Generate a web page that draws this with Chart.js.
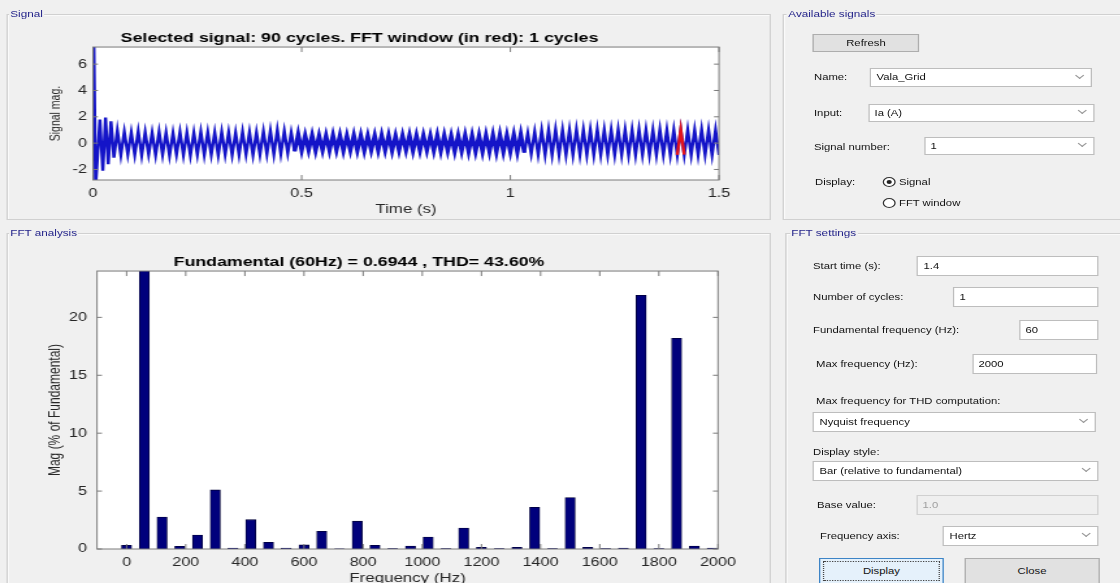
<!DOCTYPE html>
<html>
<head>
<meta charset="utf-8">
<title>FFT analysis</title>
<script src="https://cdn.jsdelivr.net/npm/chart.js@4.4.1/dist/chart.umd.min.js"></script>
<style>
  html, body { margin:0; padding:0; width:1120px; height:583px; overflow:hidden; background:#f0f0f0; }
  #stage { position:absolute; left:0; top:0; height:583px; transform-origin:0 0;
           font-family: Arial, "Liberation Sans", sans-serif; font-size:8.7px; color:#111; }
  #stage div, #stage canvas { position:absolute; box-sizing:border-box; }
  .panel { border:1px solid #d0d0d0; box-shadow: inset 1px 1px 0 #fafafa; }
  .ptitle { background:#f0f0f0; color:#24248a; padding:0 1px; font-size:9px; line-height:12px; white-space:nowrap; }
  .lbl { white-space:nowrap; line-height:14px; }
  .box { background:#fff; border:1px solid #bdbdbd; }
  .box.off { background:#efefef; border-color:#d0d0d0; color:#a0a0a0; }
  .box .t { left:4px; top:0; white-space:nowrap; }
  .box .arr { right:6px; width:5px; height:5px; border-right:1px solid #9a9a9a; border-bottom:1px solid #9a9a9a; transform:rotate(45deg); }
  .btn { background:#e1e1e1; border:1px solid #adadad; text-align:center; }
  .btn.focus { background:#e5f1fb; border:1px solid #3d84c6; }
  .btn .dots { left:2px; top:2px; right:2px; bottom:2px; border:1px dotted #444; }
  .radio { width:10px; height:10px; border:1px solid #333; border-radius:50%; background:#fff; }
  .radio .dot { left:2px; top:2px; width:4px; height:4px; border-radius:50%; background:#222; }
</style>
</head>
<body>
<div id="stage"></div>
<script>
// ---- chart data ----
const fftFreq = [0, 60, 120, 180, 240, 300, 360, 420, 480, 540, 600, 660, 720, 780, 840, 900, 960,
                 1020, 1080, 1140, 1200, 1260, 1320, 1380, 1440, 1500, 1560, 1620, 1680, 1740, 1800, 1860, 1920, 1980];
const fftMag  = [0.32, 100, 2.76, 0.23, 1.2, 5.1, 0.07, 2.53, 0.57, 0.07, 0.35, 1.52, 0.02, 2.4, 0.32, 0.03, 0.25,
                 1.03, 0.03, 1.8, 0.15, 0.03, 0.15, 3.6, 0.03, 4.45, 0.15, 0.03, 0.08, 21.9, 0.03, 18.2, 0.25, 0.08];
const fftXTicks = [0, 200, 400, 600, 800, 1000, 1200, 1400, 1600, 1800, 2000];
const fftYTicks = [0, 5, 10, 15, 20];

// start-up transient, then one trough / one crest per 60 Hz cycle
const transT = [0, 0.002, 0.006, 0.0165, 0.0235, 0.030, 0.0365, 0.043];
const transV = [0, 7.8, -3.4, 1.8, -2.1, 1.95, -1.6, 1.65];
const firstCycle = 3;
const cycleLow = [
  -1.1, -0.9, -0.85, -0.88, -0.92, -0.86, -0.9, -0.88, -0.94, -0.85, -0.9, -0.92, -0.86,
  -0.9, -0.88, -0.92, -0.86, -0.9, -0.88, -0.85, -0.9, -0.86, -0.82, -0.85, -0.8, -0.75,
  -0.62, -0.58, -0.55, -0.6, -0.56, -0.58, -0.55, -0.6, -0.56, -0.58, -0.6, -0.55, -0.58,
  -0.56, -0.6, -0.58, -0.55, -0.6, -0.58, -0.56, -0.6, -0.62, -0.6, -0.64, -0.62, -0.66,
  -0.65, -0.68, -0.66, -0.7, -0.68, -0.66, -0.7,
  -0.72, -0.8, -0.85, -0.88, -0.9, -0.88, -0.9, -0.9, -0.88, -0.9, -0.9, -0.88, -0.9, -0.9,
  -0.88, -0.9, -0.9, -0.88, -0.9, -0.9, -0.88, -0.9, -0.9, -0.88, -0.9, -0.9, -0.88, -0.9];
const cycleHigh = [
  0.95, 0.85, 0.8, 0.88, 0.82, 0.78, 0.85, 0.8, 0.76, 0.84, 0.8, 0.78, 0.86,
  0.82, 0.8, 0.84, 0.8, 0.78, 0.85, 0.82, 0.8, 0.88, 0.92, 1.0, 0.9, 0.8,
  0.7, 0.6, 0.62, 0.58, 0.6, 0.62, 0.6, 0.58, 0.62, 0.6, 0.58, 0.6, 0.62,
  0.6, 0.58, 0.6, 0.62, 0.6, 0.6, 0.58, 0.62, 0.6, 0.58, 0.6, 0.62, 0.6,
  0.6, 0.62, 0.64, 0.66, 0.62, 0.65, 0.7,
  0.75, 0.85, 0.95, 1.0, 1.02, 1.0, 1.0, 1.02, 1.0, 1.0, 1.02, 1.0, 1.0, 1.02,
  1.0, 1.0, 1.02, 1.0, 1.0, 1.02, 1.0, 1.0, 1.02, 1.0, 1.0, 1.02, 1.0, 1.0];
const endValue = -0.9;
const sigXTicks = [0, 0.5, 1, 1.5];
const sigYTicks = [-2, 0, 2, 4, 6];

const f0 = 60, fftStart = 1.4, fftCycles = 1;

// ---- page is a horizontally stretched MATLAB window ----
const S = 1.3;
const stage = document.getElementById('stage');
stage.style.width = (1120 / S) + 'px';
stage.style.transform = 'scaleX(' + S + ')';

function put(cls, x, y, w, h, text, parent) {
  const d = document.createElement('div');
  d.className = cls;
  d.style.left = (x / S) + 'px';
  d.style.top = y + 'px';
  if (w != null) d.style.width = (w / S) + 'px';
  if (h != null) d.style.height = h + 'px';
  if (text != null) d.textContent = text;
  (parent || stage).appendChild(d);
  return d;
}
function label(x, y, text) { return put('lbl', x, y - 7, null, 14, text); }
function field(x, y, w, h, text, combo, off) {
  const b = put('box' + (off ? ' off' : ''), x, y, w, h);
  const t = document.createElement('div');
  t.className = 't'; t.textContent = text; t.style.lineHeight = (h - 2) + 'px';
  b.appendChild(t);
  if (combo) {
    const a = document.createElement('div');
    a.className = 'arr'; a.style.top = (h / 2 - 6) + 'px';
    b.appendChild(a);
  }
  return b;
}
function button(x, y, w, h, text, focus) {
  const b = put('btn' + (focus ? ' focus' : ''), x, y, w, h);
  b.style.lineHeight = (h - 2) + 'px';
  b.textContent = text;
  if (focus) { const d = document.createElement('div'); d.className = 'dots'; b.appendChild(d); }
  return b;
}
function radio(x, y, on) {
  const r = put('radio', x, y, null, null);
  if (on) { const d = document.createElement('div'); d.className = 'dot'; r.appendChild(d); }
}
function panel(x, y, w, h, title, tx) {
  put('panel', x, y, w, h);
  put('ptitle', tx, y - 6, null, 12, title);
}

panel(6, 14, 765, 206, 'Signal', 9);
panel(6, 233, 765, 400, 'FFT analysis', 9);
panel(783, 14, 345, 206, 'Available signals', 787);
panel(785, 233, 345, 400, 'FFT settings', 790);

button(813, 34, 106, 18, 'Refresh');
label(814, 77, 'Name:');            field(870, 68, 222, 19, 'Vala_Grid', true);
label(814, 113, 'Input:');          field(868, 104, 226, 18, 'Ia (A)', true);
label(814, 147, 'Signal number:');  field(924, 137, 170, 18, '1', true);
label(815, 182, 'Display:');
radio(883, 177, true);  label(899, 182, 'Signal');
radio(883, 198, false); label(899, 203, 'FFT window');

label(813, 266, 'Start time (s):');              field(917, 256, 182, 20, '1.4');
label(813, 297, 'Number of cycles:');            field(953, 287, 146, 20, '1');
label(813, 330, 'Fundamental frequency (Hz):');  field(1019, 320, 79, 20, '60');
label(816, 364, 'Max frequency (Hz):');          field(972, 354, 125, 20, '2000');
label(816, 401, 'Max frequency for THD computation:');
field(813, 412, 283, 20, 'Nyquist frequency', true);
label(813, 452, 'Display style:');
field(813, 461, 286, 20, 'Bar (relative to fundamental)', true);
label(817, 505, 'Base value:');                  field(916, 495, 183, 20, '1.0', false, true);
label(820, 536, 'Frequency axis:');              field(943, 526, 156, 20, 'Hertz', true);
button(819, 558, 125, 26, 'Display', true);
button(964, 558, 136, 26, 'Close');

// ---- charts ----
Chart.defaults.font.family = 'Arial, "Liberation Sans", sans-serif';
Chart.defaults.color = '#262626';

// MATLAB style axes: white plot area, box with inward ticks on all four sides
const axisBox = {
  id: 'axisBox',
  beforeDraw(chart) {
    const {ctx, chartArea: a} = chart;
    ctx.save();
    ctx.fillStyle = '#ffffff';
    ctx.fillRect(a.left, a.top, a.right - a.left, a.bottom - a.top);
    ctx.restore();
  },
  afterDatasetsDraw(chart) {
    const {ctx, chartArea: a, scales: {x, y}} = chart;
    ctx.save();
    ctx.strokeStyle = '#7a7a7a';
    ctx.lineWidth = 1;
    ctx.strokeRect(a.left, a.top, a.width, a.height);
    ctx.beginPath();
    x.ticks.forEach(t => {
      const px = x.getPixelForValue(t.value);
      ctx.moveTo(px, a.bottom); ctx.lineTo(px, a.bottom - 5);
      ctx.moveTo(px, a.top); ctx.lineTo(px, a.top + 5);
    });
    y.ticks.forEach(t => {
      const py = y.getPixelForValue(t.value);
      ctx.moveTo(a.left, py); ctx.lineTo(a.left + 5 / S, py);
      ctx.moveTo(a.right, py); ctx.lineTo(a.right - 5 / S, py);
    });
    ctx.stroke();
    ctx.restore();
  }
};

function makeCanvas(x, y, w, h) {
  const c = document.createElement('canvas');
  c.width = w; c.height = h;
  c.style.left = (x / S) + 'px';
  c.style.top = y + 'px';
  stage.appendChild(c);
  return c;
}
const titleFont = {size: 13.7, weight: 'bold', lineHeight: 1.2};
const tickFont = {size: 12.5};
const plain = v => String(v);

// signal trace
const signalPts = transT.map((t, i) => ({x: t, y: transV[i]}));
cycleLow.forEach((lo, i) => {
  const k = firstCycle + i;
  signalPts.push({x: k / f0, y: lo});
  signalPts.push({x: (k + 0.5) / f0, y: cycleHigh[i]});
});
signalPts.push({x: 1.5, y: endValue});
const winEnd = fftStart + fftCycles / f0;
const windowPts = signalPts.filter(p => p.x >= fftStart - 1e-6 && p.x <= winEnd + 1e-6);

const sigCanvas = makeCanvas(0, 22, 592, 200);
new Chart(sigCanvas, {
  type: 'line',
  data: {
    datasets: [
      {data: windowPts, borderColor: '#e3141c', borderWidth: 2.4, pointRadius: 0, order: 0},
      {data: signalPts, borderColor: '#1414c8', borderWidth: 2.4, pointRadius: 0, order: 1,
       segment: {borderWidth: c => (c.p0.parsed.x > 0.48 && c.p1.parsed.x < 1.04) ? 3.2 : 2.4}}
    ]
  },
  options: {
    responsive: false, animation: false, events: [],
    layout: {padding: {left: 0, right: 592 - 719 / S, top: 0, bottom: 0}},
    plugins: {
      legend: {display: false}, tooltip: {enabled: false},
      title: {display: true, text: 'Selected signal: 90 cycles. FFT window (in red): 1 cycles',
              color: '#000', font: titleFont, padding: {top: 7.8, bottom: 0.8}}
    },
    scales: {
      x: {type: 'linear', min: 0, max: 1.5,
          afterBuildTicks: s => { s.ticks = sigXTicks.map(v => ({value: v})); },
          afterFit: s => { s.height = 42; },
          grid: {display: false, drawTicks: false}, border: {display: false},
          ticks: {padding: 6.3, autoSkip: false, maxRotation: 0, font: tickFont, callback: plain},
          title: {display: true, text: 'Time (s)', font: {size: 13}, padding: {top: 0, bottom: 5.2}}},
      y: {min: -2.8, max: 7.3,
          afterBuildTicks: s => { s.ticks = sigYTicks.map(v => ({value: v})); },
          afterFit: s => { s.width = 93 / S; },
          grid: {display: false, drawTicks: false}, border: {display: false},
          ticks: {padding: 6 / S, autoSkip: false, font: tickFont, callback: plain},
          title: {display: true, text: 'Signal mag.', font: {size: 10.5}, padding: {top: 36.4, bottom: 0}}}
    }
  },
  plugins: [axisBox]
});

// harmonic spectrum
const fftCanvas = makeCanvas(0, 240, 592, 360);
new Chart(fftCanvas, {
  type: 'bar',
  data: {
    datasets: [{
      data: fftFreq.map((f, i) => ({x: f, y: fftMag[i]})),
      backgroundColor: '#00007c', borderColor: '#000038', borderWidth: 0.8,
      barThickness: 10 / S
    }]
  },
  options: {
    responsive: false, animation: false, events: [],
    layout: {padding: {left: 0, right: 592 - 718 / S, top: 0, bottom: 0}},
    plugins: {
      legend: {display: false}, tooltip: {enabled: false},
      title: {display: true, text: 'Fundamental (60Hz) = 0.6944 , THD= 43.60%',
              color: '#000', font: titleFont, padding: {top: 13.8, bottom: 0.8}}
    },
    scales: {
      x: {type: 'linear', min: -100, max: 2000, offset: false,
          afterBuildTicks: s => { s.ticks = fftXTicks.map(v => ({value: v})); },
          afterFit: s => { s.height = 51; },
          grid: {display: false, drawTicks: false, offset: false}, border: {display: false},
          ticks: {padding: 6.1, autoSkip: false, maxRotation: 0, font: tickFont, callback: plain},
          title: {display: true, text: 'Frequency (Hz)', font: {size: 13}, padding: {top: 0, bottom: 14.2}}},
      y: {min: 0, max: 24,
          afterBuildTicks: s => { s.ticks = fftYTicks.map(v => ({value: v})); },
          afterFit: s => { s.width = 97 / S; },
          grid: {display: false, drawTicks: false}, border: {display: false},
          ticks: {padding: 10 / S, autoSkip: false, font: tickFont, callback: plain},
          title: {display: true, text: 'Mag (% of Fundamental)', font: {size: 12}, padding: {top: 35.1, bottom: 0}}}
    }
  },
  plugins: [axisBox]
});
</script>
</body>
</html>
